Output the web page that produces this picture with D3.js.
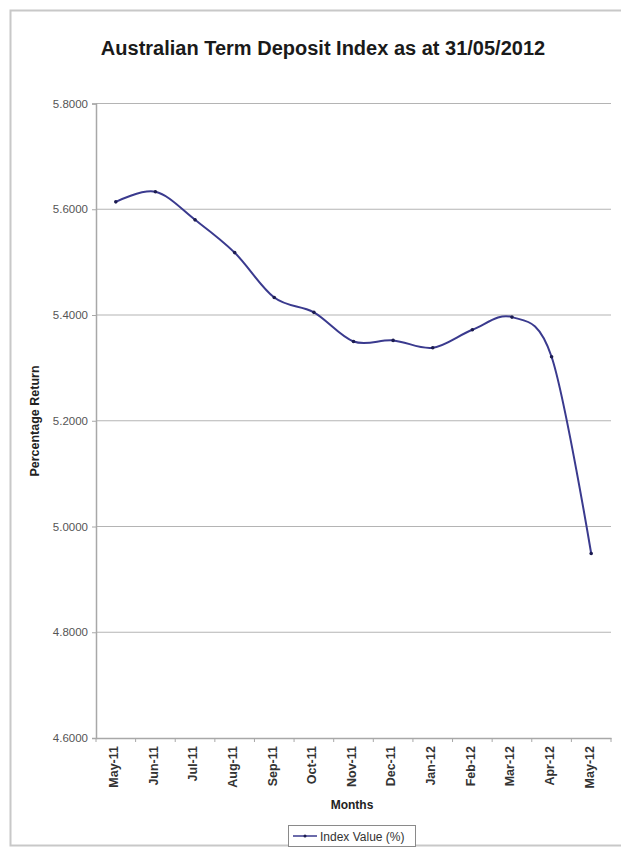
<!DOCTYPE html>
<html>
<head>
<meta charset="utf-8">
<script src="https://cdn.jsdelivr.net/npm/d3@7"></script>
<style>
  html, body { margin: 0; padding: 0; background: #fff; }
  svg { display: block; font-family: "Liberation Sans", Arial, sans-serif; }
</style>
</head>
<body>
<svg id="chart" width="621" height="850"></svg>
<script>
// Monthly index values (%)
const months = ["May-11", "Jun-11", "Jul-11", "Aug-11", "Sep-11", "Oct-11", "Nov-11",
                "Dec-11", "Jan-12", "Feb-12", "Mar-12", "Apr-12", "May-12"];
const indexValues = [5.614, 5.633, 5.580, 5.518, 5.433, 5.405, 5.350,
                     5.352, 5.338, 5.372, 5.396, 5.321, 4.949];
const yTicks = [4.6, 4.8, 5.0, 5.2, 5.4, 5.6, 5.8];
const chartTitle = "Australian Term Deposit Index as at 31/05/2012";
const xTitle = "Months";
const yTitle = "Percentage Return";
const seriesName = "Index Value (%)";

const svg = d3.select("#chart");
const W = 621;
const plot = { left: 96, right: 611, top: 103.5, bottom: 738 };
const lineColor = "#3a3a8e";
const markColor = "#1c1c50";

// chart frame
svg.append("rect")
  .attr("x", 10.5).attr("y", 10.5)
  .attr("width", W).attr("height", 835)
  .attr("fill", "#fff").attr("stroke", "#c8c8c8").attr("stroke-width", 2);

const x = d3.scaleBand().domain(months).range([plot.left, plot.right]);
const y = d3.scaleLinear().domain([4.6, 5.8]).range([plot.bottom, plot.top]);

// title
svg.append("text")
  .attr("x", 323).attr("y", 55)
  .attr("text-anchor", "middle")
  .attr("font-size", 20).attr("font-weight", "bold").attr("fill", "#1a1a1a")
  .text(chartTitle);

// horizontal gridlines
svg.append("g")
  .selectAll("line")
  .data(yTicks.filter(t => t > 4.6))
  .join("line")
  .attr("x1", plot.left).attr("x2", plot.right)
  .attr("y1", d => y(d)).attr("y2", d => y(d))
  .attr("stroke", "#b4b4b4").attr("stroke-width", 1.2);

// y axis
const yAxis = svg.append("g")
  .attr("transform", `translate(${plot.left},0)`)
  .call(d3.axisLeft(y).tickValues(yTicks).tickFormat(d3.format(".4f")).tickSize(4).tickPadding(4));
yAxis.select(".domain").attr("stroke", "#a8a8a8").attr("stroke-width", 1.5);
yAxis.selectAll(".tick line").attr("stroke", "#a8a8a8");
yAxis.selectAll(".tick text")
  .attr("font-size", 11.5).attr("fill", "#555")
  .attr("font-family", "'Liberation Sans', Arial, sans-serif");

// x axis: category labels centred under each month, ticks between months
const xAxis = svg.append("g")
  .attr("transform", `translate(0,${plot.bottom})`)
  .call(d3.axisBottom(x).tickSize(0).tickPadding(0));
xAxis.select(".domain").attr("stroke", "#a8a8a8").attr("stroke-width", 1.5);
xAxis.selectAll(".tick text")
  .attr("font-size", 12.5).attr("fill", "#333").attr("font-weight", "bold")
  .attr("font-family", "'Liberation Sans', Arial, sans-serif")
  .attr("transform", "rotate(-90)")
  .attr("text-anchor", "end")
  .attr("x", -8).attr("y", -2).attr("dy", "0.35em");
svg.append("g")
  .selectAll("line")
  .data(months.concat([null]))
  .join("line")
  .attr("x1", (d, i) => plot.left + i * x.step())
  .attr("x2", (d, i) => plot.left + i * x.step())
  .attr("y1", plot.bottom).attr("y2", plot.bottom + 4)
  .attr("stroke", "#a8a8a8");

// axis titles
svg.append("text")
  .attr("x", 352).attr("y", 809)
  .attr("text-anchor", "middle")
  .attr("font-size", 12).attr("font-weight", "bold").attr("fill", "#222")
  .text(xTitle);
svg.append("text")
  .attr("transform", "translate(39,421) rotate(-90)")
  .attr("text-anchor", "middle")
  .attr("font-size", 12.5).attr("font-weight", "bold").attr("fill", "#222")
  .text(yTitle);

// series line (smoothed) and markers
const cx = (d, i) => x(months[i]) + x.bandwidth() / 2;
const line = d3.line()
  .x(cx)
  .y(d => y(d))
  .curve(d3.curveCardinal.tension(0));
svg.append("path")
  .datum(indexValues)
  .attr("d", line)
  .attr("fill", "none")
  .attr("stroke", lineColor)
  .attr("stroke-width", 2);
svg.append("g")
  .selectAll("circle")
  .data(indexValues)
  .join("circle")
  .attr("cx", cx).attr("cy", d => y(d))
  .attr("r", 1.8)
  .attr("fill", markColor);

// legend
const lg = svg.append("g").attr("transform", "translate(288,825)");
lg.append("rect")
  .attr("x", 0.5).attr("y", 0.5).attr("width", 127).attr("height", 21)
  .attr("fill", "#fff").attr("stroke", "#8a8a8a");
lg.append("line")
  .attr("x1", 5).attr("x2", 29).attr("y1", 11).attr("y2", 11)
  .attr("stroke", lineColor).attr("stroke-width", 1.5);
lg.append("circle").attr("cx", 17).attr("cy", 11).attr("r", 1.5).attr("fill", markColor);
lg.append("text")
  .attr("x", 32).attr("y", 15.5)
  .attr("font-size", 12).attr("fill", "#333")
  .text(seriesName);
</script>
</body>
</html>
